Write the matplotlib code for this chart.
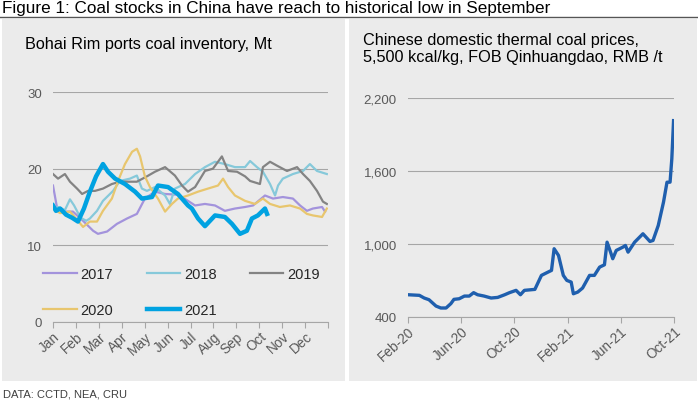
import matplotlib
matplotlib.use("Agg")
import matplotlib.pyplot as plt
import matplotlib.dates as mdates
import pandas as pd
from matplotlib.patches import Rectangle
from matplotlib.lines import Line2D

plt.rcParams['font.family'] = ['Liberation Sans', 'DejaVu Sans']

# ---- left chart: Bohai Rim ports coal inventory (Mt), x in months from Jan 1
months = ['Jan', 'Feb', 'Mar', 'Apr', 'May', 'Jun', 'Jul', 'Aug', 'Sep', 'Oct', 'Nov', 'Dec']

m17 = [0, 0.17, 0.44, 0.87, 1.31, 1.75, 1.96, 2.36, 2.79, 3.23, 3.66, 4.01, 4.45, 4.89, 5.45, 5.89,
       6.20, 6.63, 7.07, 7.50, 7.94, 8.38, 8.73, 9.25, 9.60, 10.03, 10.47, 10.78, 11.08, 11.34, 11.74, 11.87]
v17 = [17.8, 15.0, 14.4, 14.4, 13.2, 11.9, 11.5, 11.8, 12.8, 13.5, 14.1, 16.1, 17.0, 16.7, 16.6, 15.8,
       15.2, 15.4, 15.2, 14.5, 14.8, 15.0, 15.2, 16.5, 16.1, 16.3, 16.1, 15.2, 14.5, 14.8, 15.0, 14.4]

m18 = [0, 0.22, 0.52, 0.74, 0.92, 1.20, 1.45, 1.61, 1.92, 2.18, 2.62, 2.92, 3.36, 3.66, 3.88, 4.10,
       4.45, 4.89, 5.10, 5.32, 5.76, 6.20, 6.63, 7.07, 7.50, 7.94, 8.38, 8.60, 8.90, 9.16, 9.47, 9.69,
       9.82, 10.03, 10.47, 10.91, 11.21, 11.52, 11.95]
v18 = [14.8, 15.0, 14.6, 16.0, 15.2, 13.6, 13.2, 13.5, 14.5, 15.8, 17.1, 18.4, 18.7, 19.1, 17.4, 17.1,
       17.6, 16.5, 15.4, 17.4, 18.0, 19.3, 20.2, 20.9, 20.6, 20.2, 20.2, 21.0, 20.2, 19.6, 18.0, 16.5,
       17.8, 18.7, 19.3, 19.7, 20.6, 19.7, 19.3]

m19 = [0, 0.22, 0.52, 0.74, 1.05, 1.27, 1.53, 1.83, 2.18, 2.57, 2.92, 3.27, 3.66, 4.10, 4.45, 4.89,
       5.32, 5.63, 5.89, 6.20, 6.63, 6.98, 7.37, 7.64, 8.03, 8.38, 8.60, 9.03, 9.16, 9.47, 9.77, 10.21,
       10.65, 10.91, 11.21, 11.52, 11.78, 11.95]
v19 = [19.3, 18.7, 19.3, 18.3, 17.4, 16.7, 17.1, 17.1, 17.4, 18.0, 18.3, 18.3, 18.3, 19.0, 19.6, 20.2,
       19.1, 17.8, 17.0, 17.6, 19.7, 20.0, 21.6, 19.7, 19.6, 19.0, 18.4, 18.0, 20.2, 20.9, 20.4, 19.7,
       20.2, 19.3, 18.4, 17.1, 15.7, 15.4]

m20 = [0, 0.31, 0.74, 1.09, 1.31, 1.61, 1.92, 2.18, 2.57, 2.84, 3.14, 3.45, 3.66, 3.80, 4.01, 4.23,
       4.58, 4.89, 5.19, 5.45, 5.89, 6.33, 6.76, 7.20, 7.42, 7.64, 7.94, 8.38, 8.81, 9.16, 9.47, 9.90,
       10.34, 10.78, 11.08, 11.34, 11.74, 11.95]
v20 = [14.8, 14.2, 14.4, 13.2, 12.4, 13.1, 13.1, 14.5, 16.1, 18.4, 20.6, 22.2, 22.6, 21.6, 19.0, 17.6,
       16.1, 14.4, 15.4, 16.1, 16.5, 17.0, 17.4, 17.8, 18.7, 17.6, 16.5, 15.8, 15.4, 16.1, 15.4, 15.0,
       15.2, 14.8, 14.1, 13.9, 13.7, 14.8]

m21 = [0, 0.13, 0.31, 0.57, 0.83, 1.09, 1.35, 1.61, 1.88, 2.18, 2.40, 2.71, 3.14, 3.58, 3.88, 4.32,
       4.58, 5.02, 5.45, 5.89, 6.06, 6.33, 6.63, 7.07, 7.50, 7.81, 8.16, 8.46, 8.68, 8.94, 9.25, 9.34]
v21 = [15.2, 14.5, 14.8, 14.0, 13.6, 13.1, 14.8, 17.0, 19.0, 20.6, 19.6, 18.7, 18.0, 17.0, 16.1, 16.3,
       17.8, 17.6, 16.7, 15.2, 14.8, 13.5, 12.5, 13.9, 13.7, 12.8, 11.5, 11.9, 13.5, 13.9, 14.8, 14.1]

# ---- right chart: thermal coal price, RMB/t
price_dates = ['2020-02-01', '2020-02-27', '2020-03-09', '2020-03-20', '2020-04-05', '2020-04-16',
               '2020-04-28', '2020-05-09', '2020-05-16', '2020-05-28', '2020-06-09', '2020-06-20',
               '2020-06-30', '2020-07-09', '2020-07-24', '2020-08-09', '2020-08-24', '2020-09-09',
               '2020-09-20', '2020-10-05', '2020-10-15', '2020-10-24', '2020-11-17', '2020-12-02',
               '2020-12-17', '2020-12-25', '2020-12-31', '2021-01-10', '2021-01-21', '2021-01-29',
               '2021-02-08', '2021-02-13', '2021-02-23', '2021-03-06', '2021-03-22', '2021-04-02',
               '2021-04-14', '2021-04-25', '2021-05-01', '2021-05-09', '2021-05-14', '2021-05-22',
               '2021-06-06', '2021-06-12', '2021-06-18', '2021-07-03', '2021-07-22', '2021-08-07',
               '2021-08-14', '2021-08-26', '2021-09-07', '2021-09-15', '2021-09-22', '2021-09-26',
               '2021-09-30']
price = [583, 578, 556, 542, 490, 474, 474, 510, 545, 550, 572, 572,
         600, 583, 572, 556, 561, 583, 600, 619, 583, 619, 627, 742,
         769, 783, 961, 906, 742, 701, 687, 591, 605, 638, 742, 742,
         810, 829, 1015, 933, 879, 947, 974, 988, 933, 1015, 1084, 1021,
         1029, 1152, 1344, 1508, 1508, 1700, 2014]

W, H = 698, 402
fig = plt.figure(figsize=(W / 100, H / 100), dpi=100)
fig.patch.set_facecolor('white')

# grey panels
fig.add_artist(Rectangle((2 / W, 1 - 382 / H), 343 / W, 362 / H, transform=fig.transFigure,
                         facecolor='#ebebeb', edgecolor='none', zorder=0))
fig.add_artist(Rectangle((349 / W, 1 - 382 / H), 348 / W, 362 / H, transform=fig.transFigure,
                         facecolor='#ebebeb', edgecolor='none', zorder=0))
fig.add_artist(Line2D([0, 1], [1 - 17.5 / H] * 2, color='#555555', lw=1))

fig.text(2 / W, 1 - 8 / H, 'Figure 1: Coal stocks in China have reach to historical low in September',
         fontsize=12.3, va='center', ha='left', color='black')
fig.text(3 / W, 1 - 395 / H, 'DATA: CCTD, NEA, CRU', fontsize=8, va='center', color='#404040')
fig.text(25 / W, 1 - 44 / H, 'Bohai Rim ports coal inventory, Mt', fontsize=11.7, va='center')
fig.text(363 / W, 1 - 49 / H, 'Chinese domestic thermal coal prices,\n5,500 kcal/kg, FOB Qinhuangdao, RMB /t',
         fontsize=11.7, va='center', linespacing=1.2)

grid_c = '#a6a6a6'
lab_c = '#595959'


def style(ax):
    ax.set_facecolor('none')
    for s in ['top', 'right', 'left']:
        ax.spines[s].set_visible(False)
    ax.spines['bottom'].set_color(grid_c)
    ax.grid(axis='y', color=grid_c, lw=0.8)
    ax.set_axisbelow(True)
    ax.tick_params(axis='y', length=0, pad=8, labelsize=9.5, labelcolor=lab_c)
    ax.tick_params(axis='x', length=4, color=grid_c, labelsize=9.8, labelcolor=lab_c, pad=1)


# left
ax1 = fig.add_axes([53 / W, 1 - 323 / H, 275 / W, 230 / H])
style(ax1)
l17, = ax1.plot(m17, v17, color='#a393dc', lw=1.6, label='2017')
l18, = ax1.plot(m18, v18, color='#86c9da', lw=1.6, label='2018')
l19, = ax1.plot(m19, v19, color='#838383', lw=1.6, label='2019')
l20, = ax1.plot(m20, v20, color='#e8c66e', lw=1.6, label='2020')
l21, = ax1.plot(m21, v21, color='#00a2e1', lw=3.2, label='2021')
ax1.set_xlim(0, 12)
ax1.set_ylim(0, 30)
ax1.set_yticks([0, 10, 20, 30])
ax1.set_xticks(range(13))
ax1.set_xticklabels(months + [''])
for t in ax1.get_xticklabels():
    t.set_rotation(42)
    t.set_ha('right')
    t.set_rotation_mode('anchor')
ax1.legend([l17, l20, l18, l21, l19], ['2017', '2020', '2018', '2021', '2019'], ncol=3,
           loc='upper left', bbox_to_anchor=(-0.036, 0.24), frameon=False, fontsize=10.5,
           handlelength=2.3, handletextpad=0.25, columnspacing=2.3, labelspacing=1.5,
           borderpad=0, borderaxespad=0, labelcolor='#262626')

# right
ax2 = fig.add_axes([408 / W, 1 - 318 / H, 266 / W, 219 / H])
style(ax2)
ax2.plot(pd.to_datetime(price_dates), price, color='#1f5fae', lw=2.4)
ax2.set_xlim(pd.Timestamp('2020-02-01'), pd.Timestamp('2021-10-01'))
ax2.set_ylim(400, 2200)
ax2.set_yticks([400, 1000, 1600, 2200])
ax2.set_yticklabels(['400', '1,000', '1,600', '2,200'])
ax2.set_xticks(pd.to_datetime(['2020-02-01', '2020-06-01', '2020-10-01', '2021-02-01',
                               '2021-06-01', '2021-10-01']))
ax2.xaxis.set_major_formatter(mdates.DateFormatter('%b-%y'))
for t in ax2.get_xticklabels():
    t.set_rotation(42)
    t.set_ha('right')
    t.set_rotation_mode('anchor')

fig.savefig('out.png', dpi=100)
